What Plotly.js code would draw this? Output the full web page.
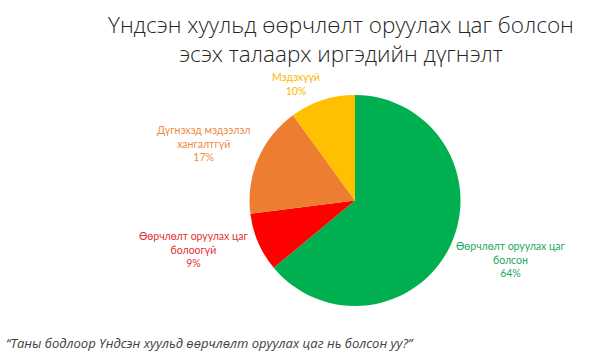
<!DOCTYPE html>
<html>
<head>
<meta charset="utf-8">
<script src="https://cdn.plot.ly/plotly-3.0.1.min.js"></script>
<style>html,body{margin:0;padding:0;background:#fff;}#chart{width:595px;height:359px;}</style>
</head>
<body>
<div id="chart"></div>
<script>
const categories = ["Өөрчлөлт оруулах цаг болсон", "Өөрчлөлт оруулах цаг болоогүй", "Дүгнэхэд мэдээлэл хангалтгүй", "Мэдэхүүй"];
const labelLines = [["Өөрчлөлт оруулах цаг", "болсон"], ["Өөрчлөлт оруулах цаг", "болоогүй"], ["Дүгнэхэд мэдээлэл", "хангалтгүй"], ["Мэдэхүүй"]];
const values = [64, 9, 17, 10];
const sliceColors = ["#00B050", "#FF0000", "#ED7D31", "#FFC000"];
const textColors = ["#1BAA5A", "#E5312F", "#EE8A45", "#F5B800"];
const titleLines = ["Үндсэн хуульд өөрчлөлт оруулах цаг болсон", "эсэх талаарх иргэдийн дүгнэлт"];
const noteText = "“Таны бодлоор Үндсэн хуульд өөрчлөлт оруулах цаг нь болсон уу?”";

// label anchor positions (pixels) for each category
const labelPos = [[511, 259], [194, 249], [203, 143], [296, 84]];

const W = 595, H = 359;
const annotations = categories.map((c, i) => ({
  xref: 'paper', yref: 'paper',
  x: labelPos[i][0] / W, y: 1 - labelPos[i][1] / H,
  xanchor: 'center', yanchor: 'middle',
  text: labelLines[i].concat([values[i] + '%']).join('<br>'),
  showarrow: false,
  font: {family: 'Lato, "Open Sans", sans-serif', size: 10.5, color: textColors[i]},
  align: 'center'
}));
annotations.push({
  xref: 'paper', yref: 'paper', x: 4 / W, y: 1 - 343 / H,
  xanchor: 'left', yanchor: 'middle', showarrow: false,
  text: '<i>' + noteText + '</i>',
  font: {family: '"Open Sans", sans-serif', size: 13, color: '#404040'}
});
annotations.push({
  xref: 'paper', yref: 'paper', x: 341 / W, y: 1 - 39 / H,
  xanchor: 'center', yanchor: 'middle', showarrow: false,
  text: titleLines.join('<br>'), align: 'center',
  font: {family: '"Open Sans", sans-serif', size: 22.5, color: '#262626', weight: 300}
});

const data = [{
  type: 'pie',
  labels: categories,
  values: values,
  sort: false,
  direction: 'clockwise',
  rotation: 0,
  marker: {colors: sliceColors, line: {width: 0}},
  textinfo: 'none',
  hoverinfo: 'none',
  showlegend: false,
  domain: {x: [249 / W, 461 / W], y: [1 - 306 / H, 1 - 95 / H]}
}];

const layout = {
  width: W, height: H,
  margin: {l: 0, r: 0, t: 0, b: 0},
  paper_bgcolor: '#fff',
  annotations: annotations
};

Plotly.newPlot('chart', data, layout, {staticPlot: true});
</script>
</body>
</html>
